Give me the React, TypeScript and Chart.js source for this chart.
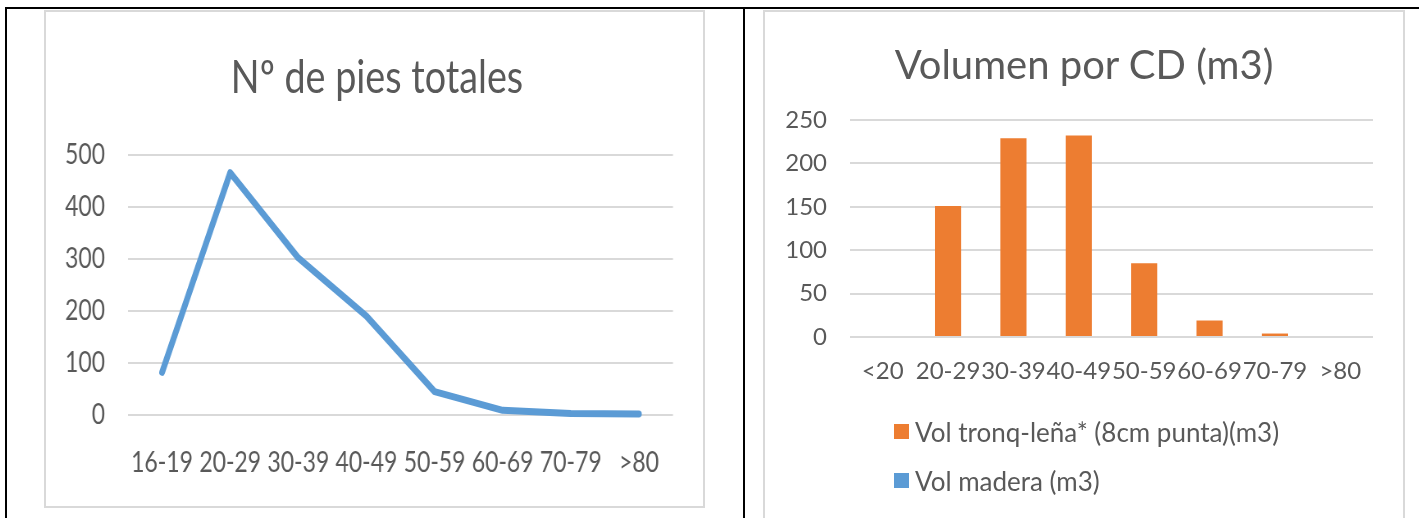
import React, { useEffect, useRef } from "react";
import { Chart, registerables } from "chart.js";

Chart.register(...registerables);

// ---------- Data: Nº de pies totales ----------
const piesTitle = "Nº de pies totales";
const piesCategories = ["16-19", "20-29", "30-39", "40-49", "50-59", "60-69", "70-79", ">80"];
const piesValues = [82, 466, 302, 190, 45, 9, 3, 2];
const piesAxisMax = 500;
const piesAxisStep = 100;

// ---------- Data: Volumen por CD (m3) ----------
const volTitle = "Volumen por CD (m3)";
const volCategories = ["<20", "20-29", "30-39", "40-49", "50-59", "60-69", "70-79", ">80"];
const volTronqLena = [0, 151, 229, 232, 85, 19, 4, 0];
const volMadera: number[] = [];
const volSeriesNames = ["Vol tronq-leña* (8cm punta)(m3)", "Vol madera (m3)"];
const volAxisMax = 250;
const volAxisStep = 50;

const ORANGE = "#ED7D31";
const BLUE = "#5B9BD5";
const GRID = "#D9D9D9";
const TEXT = "#595959";
const FONT = "Lato";
const volSeriesColors = [ORANGE, BLUE];

// left panel is horizontally compressed in the reference
const LEFT_SCALE = 0.82;
const LW = 801;
const LH = 493;
const RW = 638;
const RH = 506;

function PiesChart() {
  const ref = useRef<HTMLCanvasElement>(null);
  useEffect(() => {
    if (!ref.current) return;
    const chart = new Chart(ref.current, {
      type: "line",
      data: {
        labels: piesCategories,
        datasets: [
          {
            label: piesTitle,
            data: piesValues,
            borderColor: BLUE,
            backgroundColor: BLUE,
            borderWidth: 7,
            pointRadius: 0,
            tension: 0,
            fill: false,
            borderJoinStyle: "round",
            borderCapStyle: "round",
            clip: false,
          } as any,
        ],
      },
      options: {
        responsive: false,
        animation: false,
        devicePixelRatio: 1,
        layout: { padding: { left: 0, right: 36.4, top: 143, bottom: 0 } },
        plugins: {
          legend: { display: false },
          tooltip: { enabled: false },
          title: { display: false },
        },
        scales: {
          x: {
            type: "category",
            offset: true,
            grid: { display: false, drawTicks: false },
            border: { display: false },
            ticks: {
              color: TEXT,
              font: { family: FONT, size: 28 },
              padding: 30.7,
              autoSkip: false,
              maxRotation: 0,
              minRotation: 0,
            },
            afterFit: (s: any) => {
              s.height = 90;
            },
          },
          y: {
            min: 0,
            max: piesAxisMax,
            ticks: {
              stepSize: piesAxisStep,
              color: TEXT,
              font: { family: FONT, size: 28 },
              padding: 28,
            },
            grid: { color: GRID, lineWidth: 2, drawTicks: false },
            border: { display: false },
            afterFit: (s: any) => {
              s.width = 100;
            },
          },
        },
      },
    });
    return () => chart.destroy();
  }, []);
  return <canvas ref={ref} width={LW} height={LH} style={{ display: "block" }} />;
}

function VolChart() {
  const ref = useRef<HTMLCanvasElement>(null);
  useEffect(() => {
    if (!ref.current) return;
    const chart = new Chart(ref.current, {
      type: "bar",
      data: {
        labels: volCategories,
        datasets: [
          {
            label: volSeriesNames[0],
            data: volTronqLena,
            backgroundColor: volSeriesColors[0],
            barPercentage: 0.4,
            categoryPercentage: 1,
            grouped: false,
          } as any,
          {
            label: volSeriesNames[1],
            data: volMadera,
            backgroundColor: volSeriesColors[1],
            barPercentage: 0.4,
            categoryPercentage: 1,
            grouped: false,
          } as any,
        ],
      },
      options: {
        responsive: false,
        animation: false,
        devicePixelRatio: 1,
        layout: { padding: { left: 0, right: 30, top: 108, bottom: 0 } },
        plugins: {
          legend: { display: false },
          tooltip: { enabled: false },
          title: { display: false },
        },
        scales: {
          x: {
            grid: { display: false, drawTicks: false },
            border: { display: false },
            ticks: {
              color: TEXT,
              font: { family: FONT, size: 24 },
              padding: 20.1,
              autoSkip: false,
              maxRotation: 0,
              minRotation: 0,
            },
            afterFit: (s: any) => {
              s.height = 181;
            },
          },
          y: {
            min: 0,
            max: volAxisMax,
            ticks: {
              stepSize: volAxisStep,
              color: TEXT,
              font: { family: FONT, size: 24 },
              padding: 23,
            },
            grid: { color: GRID, lineWidth: 2, drawTicks: false },
            border: { display: false },
            afterFit: (s: any) => {
              s.width = 85;
            },
          },
        },
      },
    });
    return () => chart.destroy();
  }, []);
  return <canvas ref={ref} width={RW} height={RH} style={{ display: "block" }} />;
}

export default function App() {
  const abs = (l: number, t: number, w: number, h: number, extra: any = {}) => ({
    position: "absolute" as const,
    left: l,
    top: t,
    width: w,
    height: h,
    ...extra,
  });
  return (
    <div
      style={{
        position: "fixed",
        left: 0,
        top: 0,
        width: 1419,
        height: 518,
        background: "#fff",
        overflow: "hidden",
        fontFamily: FONT,
      }}
    >
      {/* table borders */}
      <div style={abs(5, 7, 1414, 2, { background: "#000" })} />
      <div style={abs(5, 7, 2, 520, { background: "#000" })} />
      <div style={abs(743, 7, 2, 520, { background: "#000" })} />

      {/* left chart frame */}
      <div style={abs(44, 10, 657, 494, { border: "2px solid " + GRID })} />
      <div
        style={abs(46, 12, LW, LH, {
          transform: `scaleX(${LEFT_SCALE})`,
          transformOrigin: "left top",
        })}
      >
        <PiesChart />
        <div
          style={{
            position: "absolute",
            left: 403.7 - 300,
            width: 600,
            top: 36,
            textAlign: "center",
            fontSize: 46,
            lineHeight: "55.2px",
            color: TEXT,
            whiteSpace: "nowrap",
          }}
        >
          {piesTitle}
        </div>
      </div>

      {/* right chart frame */}
      <div style={abs(763, 10, 638, 520, { border: "2px solid " + GRID })} />
      <div style={abs(765, 12, RW, RH)}>
        <VolChart />
      </div>
      <div
        style={abs(1084 - 300, 39.5, 600, 48, {
          textAlign: "center",
          fontSize: 40,
          lineHeight: "48px",
          color: TEXT,
          whiteSpace: "nowrap",
        })}
      >
        {volTitle}
      </div>

      {/* legend of right chart */}
      <div style={abs(894, 416, 480, 100)}>
        {volSeriesNames.map((name, i) => (
          <div
            key={name}
            style={{
              display: "flex",
              alignItems: "center",
              height: 31,
              marginBottom: 18,
              color: TEXT,
              fontSize: 26,
              whiteSpace: "nowrap",
            }}
          >
            <span
              style={{
                display: "inline-block",
                width: 15,
                height: 15,
                background: volSeriesColors[i],
                marginRight: 6,
              }}
            />
            <span>{name}</span>
          </div>
        ))}
      </div>
    </div>
  );
}
